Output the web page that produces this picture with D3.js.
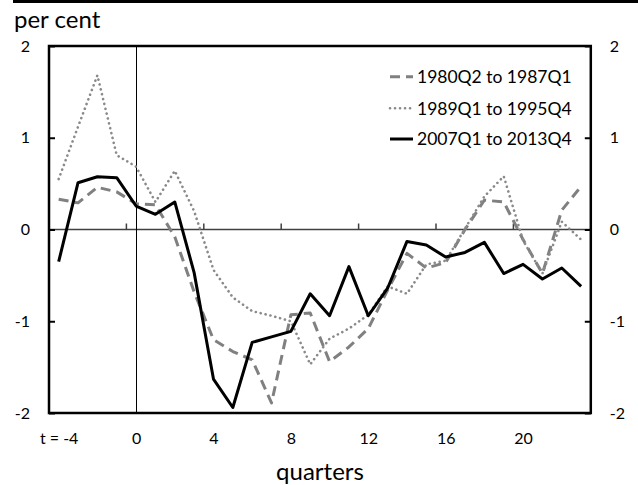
<!DOCTYPE html>
<html><head><meta charset="utf-8">
<script src="https://cdn.jsdelivr.net/npm/d3@7/dist/d3.min.js"></script>
<style>body{margin:0;background:#fff}svg{display:block}text{font-family:Lato,"Open Sans",sans-serif;fill:#000}</style>
</head><body><svg id="c" width="638" height="485"></svg>
<script>
const quarters = [-4,-3,-2,-1,0,1,2,3,4,5,6,7,8,9,10,11,12,13,14,15,16,17,18,19,20,21,22,23];
const tickLabels = ["t = -4","0","4","8","12","16","20"];
const tickQuarters = [-4,0,4,8,12,16,20];
const yTicks = [-2,-1,0,1,2];
const s1980 = [0.33,0.29,0.46,0.41,0.28,0.27,-0.08,-0.68,-1.20,-1.33,-1.42,-1.89,-0.93,-0.91,-1.44,-1.28,-1.08,-0.66,-0.26,-0.42,-0.36,0.00,0.32,0.30,-0.11,-0.48,0.21,0.47];
const s1989 = [0.55,1.12,1.68,0.81,0.685,0.30,0.64,0.20,-0.44,-0.74,-0.89,-0.94,-1.00,-1.47,-1.19,-1.08,-0.93,-0.62,-0.70,-0.38,-0.34,0.01,0.36,0.58,-0.12,-0.48,0.085,-0.11];
const s2007 = [-0.35,0.51,0.575,0.565,0.256,0.165,0.30,-0.47,-1.63,-1.94,-1.23,-1.17,-1.11,-0.70,-0.94,-0.405,-0.94,-0.64,-0.13,-0.17,-0.30,-0.25,-0.14,-0.48,-0.38,-0.54,-0.42,-0.62];
const seriesNames = ["1980Q2 to 1987Q1","1989Q1 to 1995Q4","2007Q1 to 2013Q4"];

const L=49, R=590.8, T=46, B=413;
const svg = d3.select("#c");
const x = d3.scalePoint().domain(quarters).range([L,R]).padding(0.5);
const step = x.step();
const y = d3.scaleLinear().domain([-2,2]).range([B,T]);

// top rule
svg.append("line").attr("x1",13).attr("x2",638).attr("y1",1.5).attr("y2",1.5).attr("stroke","#000").attr("stroke-width",3);
svg.append("text").attr("x",14).attr("y",28).style("font-size","24px").text("per cent");

// zero axis
svg.append("line").attr("x1",L).attr("x2",R).attr("y1",y(0)).attr("y2",y(0)).attr("stroke","#404040").attr("stroke-width",1.5);
svg.selectAll(".zt").data(tickQuarters.slice(1)).enter().append("line")
  .attr("x1",d=>x(d)-step/2).attr("x2",d=>x(d)-step/2).attr("y1",y(0)).attr("y2",y(0)-6)
  .attr("stroke","#404040").attr("stroke-width",1.5);

// vertical line at t=0
const x0 = Math.round(x(0))+0.5;
svg.append("line").attr("x1",x0).attr("x2",x0).attr("y1",T).attr("y2",B).attr("stroke","#000").attr("stroke-width",1);

// axes
const fmt = d=>String(d);
const ya = svg.append("g").attr("transform",`translate(${L},0)`).call(d3.axisLeft(y).tickValues(yTicks).tickSize(-6).tickPadding(19).tickFormat(fmt));
const yb = svg.append("g").attr("transform",`translate(${R},0)`).call(d3.axisRight(y).tickValues(yTicks).tickSize(-6).tickPadding(19).tickFormat(fmt));
[ya,yb].forEach(g=>{g.select(".domain").remove();g.selectAll("line").attr("stroke","#000").attr("stroke-width",2);g.selectAll("text").style("font-size","16px").attr("font-family",null);});

const xa = svg.append("g").attr("transform",`translate(0,${B})`).call(d3.axisBottom(x).tickValues(tickQuarters).tickSize(0).tickPadding(20).tickFormat((d,i)=>tickLabels[i]));
xa.select(".domain").remove();
xa.selectAll("text").style("font-size","16px").attr("font-family",null);

svg.append("text").attr("x",320).attr("y",480).attr("text-anchor","middle").style("font-size","24px").text("quarters");

// series
const line = d3.line().x((d,i)=>x(quarters[i])).y(d=>y(d));
const styles = [
  {data:s1980, color:"#808080", w:3, dash:"10,6", cap:"butt"},
  {data:s1989, color:"#8a8a8a", w:2.6, dash:"0.1,4.9", cap:"round"},
  {data:s2007, color:"#000", w:3, dash:null, cap:"butt"}
];
styles.forEach(s=>{
  svg.append("path").attr("d",line(s.data)).attr("fill","none").attr("stroke",s.color)
    .attr("stroke-width",s.w).attr("stroke-dasharray",s.dash).attr("stroke-linecap",s.cap).attr("stroke-linejoin","round");
});

// frame
svg.append("rect").attr("x",L).attr("y",T).attr("width",R-L).attr("height",B-T).attr("fill","none").attr("stroke","#000").attr("stroke-width",2.5);

// legend
const legY = [76.7,108.3,139];
styles.forEach((s,i)=>{
  svg.append("line").attr("x1",390).attr("x2",413).attr("y1",legY[i]).attr("y2",legY[i])
    .attr("stroke",s.color).attr("stroke-width",s.w).attr("stroke-dasharray",s.dash).attr("stroke-linecap",s.cap);
  svg.append("text").attr("x",417).attr("y",legY[i]+6.3).style("font-size","17.5px").text(seriesNames[i]);
});
</script></body></html>
